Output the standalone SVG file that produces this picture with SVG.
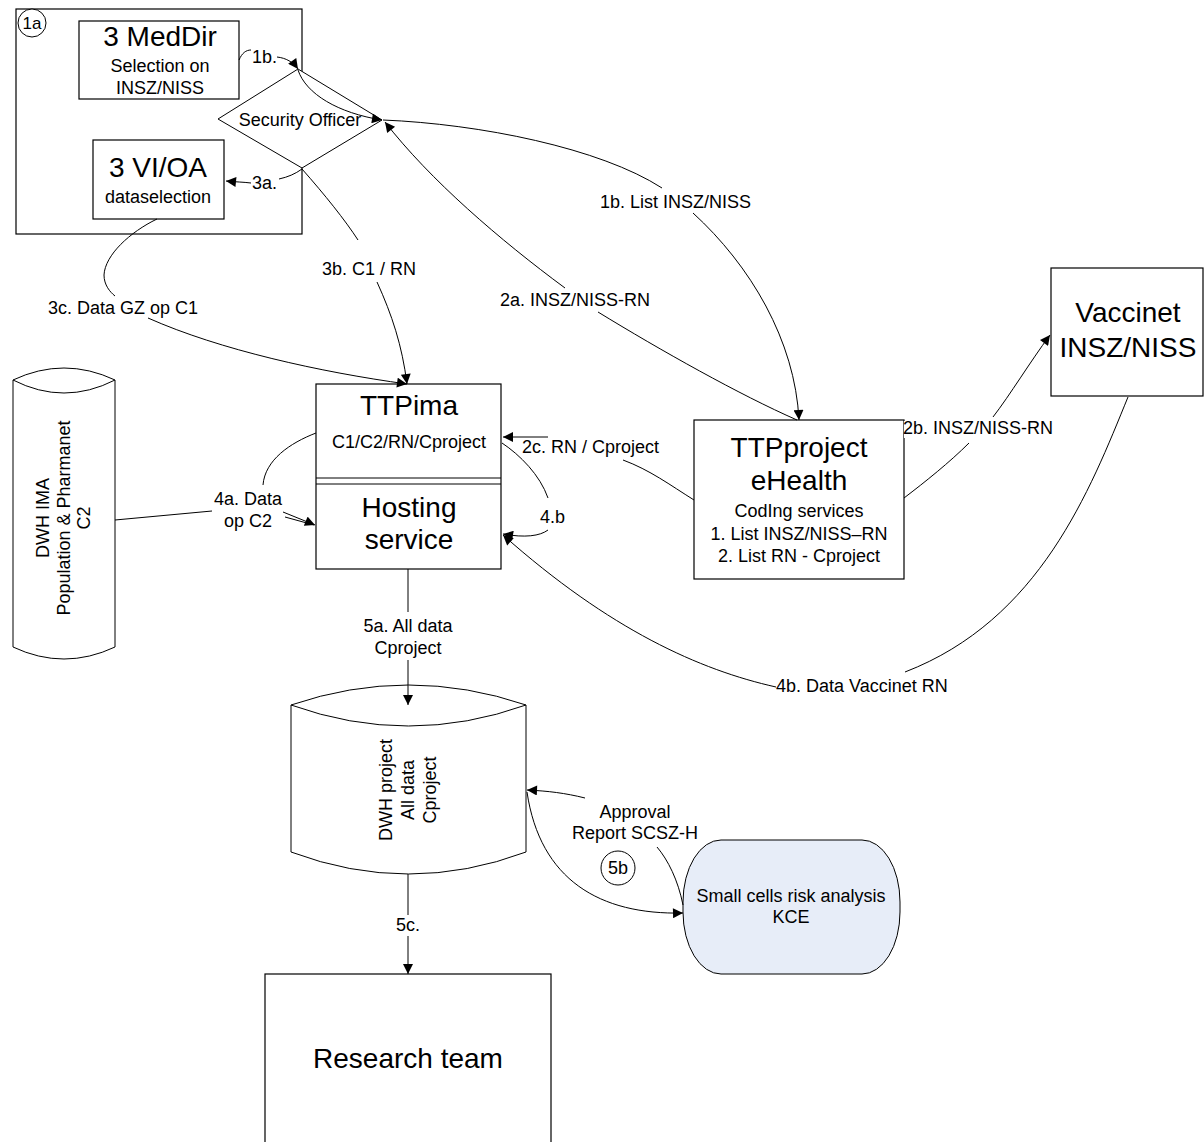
<svg xmlns="http://www.w3.org/2000/svg" width="1204" height="1142" viewBox="0 0 1204 1142">
<style>
text{font-family:"Liberation Sans",Arial,sans-serif;fill:#000}
.big{font-size:28px;text-anchor:middle}
.med{font-size:18px;text-anchor:middle}
.lbl{font-size:18px}
.lblc{font-size:18px;text-anchor:middle}
.box{fill:#fff;stroke:#000;stroke-width:1.2}
.ln{fill:none;stroke:#000;stroke-width:1}
.arr{fill:none;stroke:#000;stroke-width:1;marker-end:url(#ah)}
</style>
<defs>
<marker id="ah" viewBox="0 0 10 10" refX="10" refY="5" markerWidth="12" markerHeight="10" markerUnits="userSpaceOnUse" orient="auto">
<path d="M0,0 L10,5 L0,10 z" fill="#000"/>
</marker>
</defs>
<rect width="1204" height="1142" fill="#fff"/>

<g id="group-1a">
<rect class="box" x="16" y="9" width="286" height="225"/>
<circle cx="32" cy="23" r="14" fill="#fff" stroke="#000" stroke-width="1"/>
<text class="med" x="32" y="29" style="font-size:17px">1a</text>
</g>

<g id="meddir">
<rect class="box" x="79" y="21" width="160" height="78"/>
<text class="big" x="160" y="46">3 MedDir</text>
<text class="med" x="160" y="72">Selection on</text>
<text class="med" x="160" y="94">INSZ/NISS</text>
</g>

<g id="security-officer">
<polygon points="218,119 298,69 382,120 302,168" fill="#fff" stroke="#000" stroke-width="1"/>
<text class="med" x="300" y="126">Security Officer</text>
</g>

<g id="vioa">
<rect class="box" x="93" y="140" width="131" height="79"/>
<text class="big" x="158" y="177">3 VI/OA</text>
<text class="med" x="158" y="203">dataselection</text>
</g>

<g id="dwh-ima">
<path d="M13,380 L13,647 Q64,671 115,647 L115,380 Q64,356 13,380 z" fill="#fff" stroke="#000" stroke-width="1"/>
<path class="ln" d="M13,380 Q64,406 115,380"/>
<text class="med" transform="translate(63,518) rotate(-90)"><tspan x="0" y="-14.5">DWH IMA</tspan><tspan x="0" y="6.5">Population &amp; Pharmanet</tspan><tspan x="0" y="27">C2</tspan></text>
</g>

<g id="ttpima">
<rect class="box" x="316" y="384" width="185" height="185"/>
<line x1="316" y1="478" x2="501" y2="478" stroke="#000" stroke-width="1"/>
<line x1="316" y1="484" x2="501" y2="484" stroke="#000" stroke-width="1"/>
<text class="big" x="409" y="415">TTPima</text>
<text class="med" x="409" y="448">C1/C2/RN/Cproject</text>
<text class="big" x="409" y="517">Hosting</text>
<text class="big" x="409" y="549">service</text>
</g>

<g id="ttpproject">
<rect class="box" x="694" y="420" width="210" height="159"/>
<text class="big" x="799" y="457">TTPproject</text>
<text class="big" x="799" y="490">eHealth</text>
<text class="med" x="799" y="517">CodIng services</text>
<text class="med" x="799" y="540">1. List INSZ/NISS–RN</text>
<text class="med" x="799" y="562">2. List RN - Cproject</text>
</g>

<g id="vaccinet">
<rect class="box" x="1051" y="268" width="152" height="128"/>
<text class="big" x="1128" y="322">Vaccinet</text>
<text class="big" x="1128" y="357">INSZ/NISS</text>
</g>

<g id="dwh-project">
<path d="M291,705 L291,852 Q408.5,896 526,852 L526,705 Q408.5,665 291,705 z" fill="#fff" stroke="#000" stroke-width="1"/>
<path class="ln" d="M291,705 Q408.5,747 526,705"/>
<text class="med" transform="translate(408,790) rotate(-90)"><tspan x="0" y="-16.5">DWH project</tspan><tspan x="0" y="6">All data</tspan><tspan x="0" y="28">Cproject</tspan></text>
</g>

<g id="small-cells">
<rect x="683" y="840" width="217" height="134" rx="38" ry="62" fill="#E7EDF8" stroke="#000" stroke-width="1"/>
<text class="med" x="791" y="902">Small cells risk analysis</text>
<text class="med" x="791" y="923">KCE</text>
</g>

<g id="research-team">
<rect class="box" x="265" y="974" width="286" height="200"/>
<text class="big" x="408" y="1068">Research team</text>
</g>

<g id="connectors">
<path class="ln" d="M239,60 C242,53 246,50 251,50"/>
<path class="arr" d="M277,57 C286,58 293,62 298,69"/>
<text class="lbl" x="252" y="63">1b.</text>

<path class="arr" d="M298,70 C306,94 338,113 382,120"/>

<path class="ln" d="M383,120 C480,124 600,148 662,188"/>
<text class="lbl" x="600" y="208">1b. List INSZ/NISS</text>
<path class="arr" d="M693,213 C750,265 795,340 799,420"/>

<path class="ln" d="M797,420 C740,395 660,350 598,312"/>
<text class="lbl" x="500" y="306">2a. INSZ/NISS-RN</text>
<path class="arr" d="M565,288 C500,240 430,180 385,122"/>

<path class="ln" d="M302,169 C295,174 288,177 279,179"/>
<text class="lbl" x="252" y="189">3a.</text>
<path class="arr" d="M251,183 C243,182 236,182 226,181"/>

<path class="ln" d="M302,169 C325,195 345,220 358,240"/>
<text class="lbl" x="322" y="275">3b. C1 / RN</text>
<path class="arr" d="M377,282 C392,315 402,345 407,384"/>

<path class="ln" d="M157,219 C130,232 105,255 104,275 C104,285 110,292 115,296"/>
<text class="lbl" x="48" y="314">3c. Data GZ op C1</text>
<path class="arr" d="M148,318 C220,350 320,372 407,384"/>

<path class="ln" d="M115,520 L212,511"/>
<path class="ln" d="M316,433 C290,443 265,460 263,485"/>
<text class="lblc" x="248" y="505">4a. Data</text>
<text class="lblc" x="248" y="527">op C2</text>
<path class="ln" d="M285,517 L314,525"/>
<path class="arr" d="M283,512 L315,525"/>

<path class="ln" d="M694,500 C670,485 650,470 623,460"/>
<text class="lbl" x="522" y="453">2c. RN / Cproject</text>
<path class="arr" d="M548,437 L503,437"/>

<path class="ln" d="M502,443 C520,455 540,475 548,498"/>
<text class="lbl" x="540" y="523">4.b</text>
<path class="arr" d="M548,530 C540,536 525,538 503,534"/>

<path class="ln" d="M1128,397 C1090,490 1040,620 905,672"/>
<text class="lbl" x="776" y="692">4b. Data Vaccinet RN</text>
<path class="arr" d="M776,687 C700,670 610,630 503,535"/>

<path class="ln" d="M904,498 C925,482 950,462 969,443"/>
<rect x="904" y="421" width="156" height="17" fill="#fff"/>
<text class="lbl" x="903" y="434">2b. INSZ/NISS-RN</text>
<path class="arr" d="M993,417 C1010,395 1030,362 1050,335"/>

<path class="ln" d="M408,569 L408,612"/>
<text class="lblc" x="408" y="632">5a. All data</text>
<text class="lblc" x="408" y="654">Cproject</text>
<path class="arr" d="M408,660 L408,705"/>

<path class="ln" d="M683,905 C678,880 668,860 657,847"/>
<text class="lblc" x="635" y="818">Approval</text>
<text class="lblc" x="635" y="839">Report SCSZ-H</text>
<path class="arr" d="M585,798 C565,793 548,791 527,790"/>

<path class="arr" d="M527,792 C540,880 600,915 683,913"/>
<circle cx="618" cy="868" r="17" fill="#fff" stroke="#000" stroke-width="1"/>
<text class="lblc" x="618" y="874">5b</text>

<path class="ln" d="M408,874 L408,915"/>
<text class="lblc" x="408" y="931">5c.</text>
<path class="arr" d="M408,936 L408,974"/>
</g>
</svg>
